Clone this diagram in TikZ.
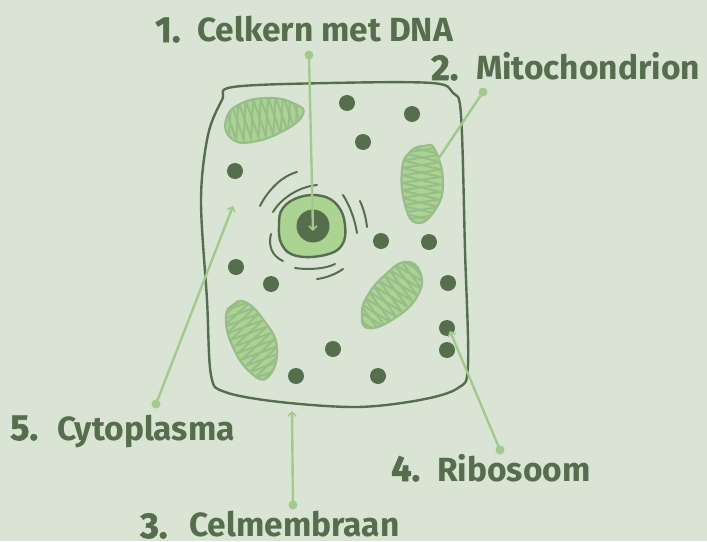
\documentclass[tikz,border=0pt]{standalone}
\usepackage{fontspec}
\setmainfont{Fira Sans}
\newfontfamily\numfont{Fira Sans}[BoldFeatures={FakeBold=1.6}]
\usetikzlibrary{arrows.meta,decorations.pathmorphing}
\definecolor{bgc}{HTML}{DAE4D5}
\definecolor{darkg}{HTML}{566E4D}
\definecolor{mitof}{HTML}{ABD391}
\definecolor{mitoh}{HTML}{99BD8A}
\definecolor{linkc}{HTML}{A3C98F}
\tikzset{
  membrane/.style={draw=darkg, line width=2.4pt, line join=round},
  envline/.style={draw=darkg, line width=2pt, line cap=round},
  ribo/.style={circle, fill=darkg, minimum size=16pt, inner sep=0pt},
  ldot/.style={circle, fill=linkc, minimum size=9pt, inner sep=0pt},
  link/.style={draw=linkc, line width=2.4pt},
  linkarrow/.style={link, -{Straight Barb[length=4pt,width=8pt,line width=1.6pt]}},
  numlabel/.style={anchor=base west, inner sep=0pt, text=darkg, font=\fontsize{36}{36}\numfont\bfseries},
  txtlabel/.style={anchor=base west, inner sep=0pt, text=darkg, font=\fontsize{33.5}{33.5}\selectfont\bfseries},
  mitoline/.style={draw=mitoh, line width=2pt}
}
% mitochondrion: outline points, axis start, axis end, half width of the cristae
\newcommand\mitochon[4]{%
  \fill[mitof] plot[smooth cycle, tension=0.8] coordinates {#1};
  \begin{scope}
    \clip plot[smooth cycle, tension=0.8] coordinates {#1};
    \draw[mitoline, decorate, decoration={zigzag, segment length=15pt, amplitude=#4}] #2 -- #3;
    \draw[mitoline, decorate, decoration={zigzag, segment length=15pt, amplitude=-#4}] #2 -- #3;
  \end{scope}
  \draw[mitoh, line width=2.2pt] plot[smooth cycle, tension=0.8] coordinates {#1};
}
\begin{document}
\begin{tikzpicture}[x=1pt, y=-1pt]
\useasboundingbox (0,0) rectangle (707,541);
\fill[bgc] (0,0) rectangle (707,541);

% cell membrane
\draw[membrane] plot[smooth cycle, tension=0.55] coordinates {
  (233,87) (330,83) (432,83) (453,93) (461,115) (465,250) (468,365)
  (458,388) (420,400) (357,407) (280,402) (225,392) (211,375)
  (207,300) (201,200) (208,135) (222,100)};

% mitochondria
\mitochon{(226,120) (240,104) (270,98) (295,104) (303,114) (285,130) (252,142) (231,138)}{(215,124)}{(315,110)}{19pt}
\mitochon{(402,170) (410,152) (424,146) (435,150) (443,183) (435,210) (417,223) (405,205)}{(423,135)}{(419,235)}{19pt}
\mitochon{(362,313) (368,295) (385,275) (405,262) (420,272) (418,295) (395,318) (368,328)}{(355,335)}{(428,255)}{19pt}
\mitochon{(226,317) (233,305) (245,302) (262,318) (277,347) (268,377) (250,372) (232,345)}{(225,295)}{(280,385)}{19pt}

% nucleus with its envelope arcs
\draw[membrane, fill=mitof] plot[smooth cycle, tension=0.7] coordinates {
  (283,208) (300,197) (322,196) (338,206) (345,225) (342,245)
  (325,255) (297,256) (282,245) (279,225)};
\node[circle, fill=darkg, minimum size=33pt, inner sep=0pt] (nucleolus) at (313,226) {};
\draw[envline] (260,206) .. controls (268,190) and (282,176) .. (297,172);
\draw[envline] (273,212) .. controls (280,200) and (297,187) .. (317,185);
\draw[envline] (343,195) .. controls (350,206) and (355,220) .. (357,233);
\draw[envline] (360,201) .. controls (364,210) and (366,218) .. (367,227);
\draw[envline] (271,234) .. controls (268,246) and (272,256) .. (283,261);
\draw[envline] (295,268) .. controls (308,270) and (325,269) .. (335,264);
\draw[envline] (317,279) .. controls (326,278) and (336,274) .. (343,269);

% ribosomes
\foreach \p [count=\i] in {(347,103),(412,114),(363,142),(235,171),(381,241),(429,242),
  (236,267),(271,284),(448,283),(447,328),(447,350),(333,349),(296,376),(378,376)}
  \node[ribo] (rib\i) at \p {};

% labels
\node[numlabel] (n1) at (155,42) {1.};
\node[txtlabel] (t1) at (197,41) {Celkern met DNA};
\node[numlabel] (n2) at (431,80) {2.};
\node[txtlabel] (t2) at (476,79) {Mitochondrion};
\node[numlabel] (n3) at (140,538) {3.};
\node[txtlabel] (t3) at (189,536) {Celmembraan};
\node[numlabel] (n4) at (391,481) {4.};
\node[txtlabel] (t4) at (437,481) {Ribosoom};
\node[numlabel] (n5) at (10,440) {5.};
\node[txtlabel] (t5) at (57,440) {Cytoplasma};

% pointer lines
\node[ldot] (d1) at (309,55) {};
\node[ldot] (d2) at (483,92) {};
\node[ldot] (d3) at (293,505) {};
\node[ldot] (d4) at (500,450) {};
\node[ldot] (d5) at (156,404) {};
\coordinate (p1) at (313,231);
\coordinate (p2) at (437,161);
\coordinate (p3) at (292,411);
\coordinate (p4) at (450,331);
\coordinate (p5) at (233,206);
\draw[linkarrow] (d1.center) -- (p1);
\draw[link] (d2.center) -- (p2);
\draw[linkarrow] (d3.center) -- (p3);
\draw[linkarrow] (d4.center) -- (p4);
\draw[linkarrow] (d5.center) -- (p5);
\end{tikzpicture}
\end{document}
